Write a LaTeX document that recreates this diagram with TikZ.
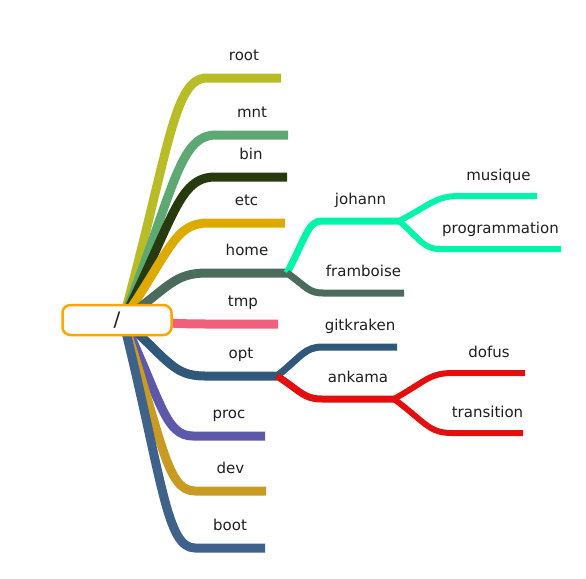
\documentclass[tikz,border=0pt]{standalone}
\usepackage{fontspec}
\setmainfont{DejaVu Sans}
\usetikzlibrary{calc,backgrounds}
\definecolor{ink}{HTML}{1E1E1E}
\definecolor{cBox}{HTML}{FFA500}
\definecolor{cRoot}{HTML}{B8BC26}
\definecolor{cMnt}{HTML}{5EA874}
\definecolor{cBin}{HTML}{263A0E}
\definecolor{cEtc}{HTML}{DDAA00}
\definecolor{cHome}{HTML}{4B6B5D}
\definecolor{cTmp}{HTML}{F0607E}
\definecolor{cOpt}{HTML}{30587A}
\definecolor{cProc}{HTML}{5E58AA}
\definecolor{cDev}{HTML}{C89B22}
\definecolor{cBoot}{HTML}{3F628A}
\definecolor{cJoh}{HTML}{00F5AA}
\definecolor{cAnk}{HTML}{E30F0F}

\begin{document}
\begin{tikzpicture}[x=1pt,y=-1pt,
    branch/.style={line join=round},
    lbl/.style={anchor=base,inner sep=0pt,text=ink,font=\fontsize{15}{18}\selectfont},
    rootbox/.style={draw=cBox,line width=2.5pt,fill=white,rounded corners=8pt,
        minimum width=109pt,minimum height=30pt,text=ink,font=\fontsize{20}{22}\selectfont}]
    \useasboundingbox (0,0) rectangle (586,578);
    \node[rootbox] (fs) at (117,320) {/};
    \coordinate (hub) at (123,320);
    \begin{scope}[on background layer]
        \foreach \nm/\src/\xa/\ly/\xb/\col/\lw/\dy in {
            root/hub/207/78/281/cRoot/9/18, mnt/hub/216/135/288/cMnt/9/18,
            bin/hub/215/177/287/cBin/9/18, etc/hub/208/223/285/cEtc/9/18,
            home/hub/207/273/287/cHome/9/18, tmp/hub/208/324/278/cTmp/9/18,
            opt/hub/205/376/277/cOpt/9/18, proc/hub/193/436/265/cProc/9/18,
            dev/hub/195/491/266/cDev/9/18, boot/hub/195/548/265/cBoot/9/18,
            johann/home-b/322/221/399/cJoh/7/17, framboise/home-b/323/293/404/cHome/7/17,
            gitkraken/opt-b/323/347/397/cOpt/7/17, ankama/opt-b/322/399/394/cAnk/7/17,
            musique/johann-b/460/196/537/cJoh/6/16, programmation/johann-b/440/249/561/cJoh/6/16,
            dofus/ankama-b/453/373/525/cAnk/6/16, transition/ankama-b/452/433/523/cAnk/6/16}
        {
            \coordinate (\nm-a) at (\xa,\ly);
            \coordinate (\nm-b) at (\xb,\ly);
            \draw[branch,\col,line width=\lw pt] let \p1=(\src), \p2=(\nm-a) in
                (\p1) .. controls ({\x1+0.55*(\x2-\x1)},{\y1+0.7*(\y2-\y1)}) and ({\x2-0.4*(\x2-\x1)},\y2) .. (\p2) -- (\nm-b);
            \node[lbl] (\nm) at ($(\nm-a)!0.5!(\nm-b)+(0,-\dy)$) {\nm};
        }
    \end{scope}
\end{tikzpicture}
\end{document}
